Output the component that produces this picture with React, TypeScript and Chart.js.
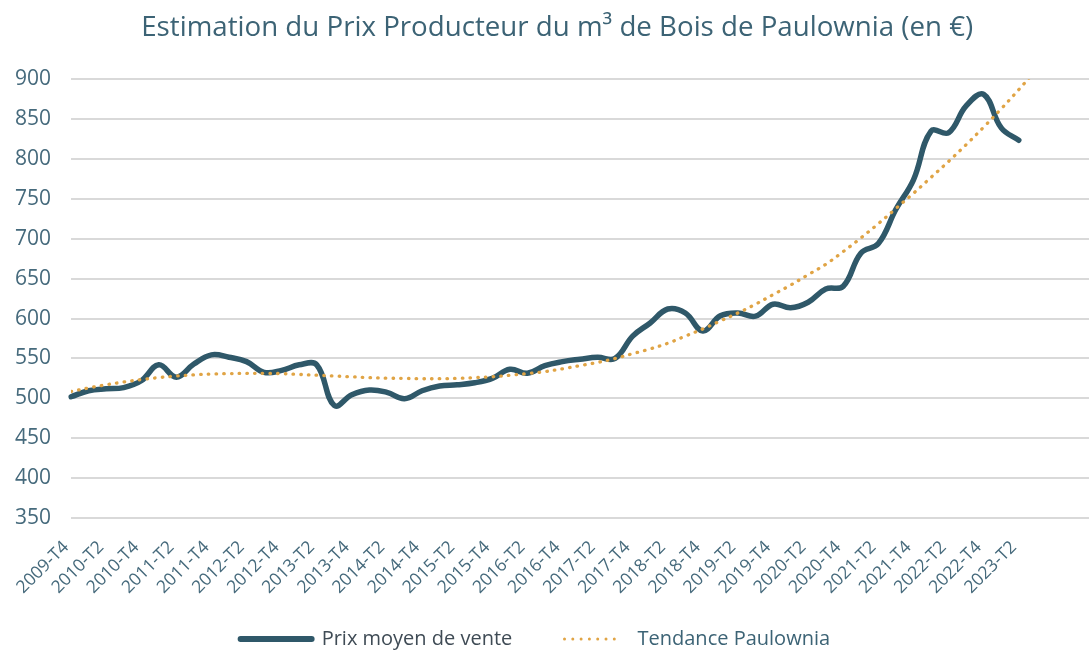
import React, { useEffect, useRef } from 'react';
import { Chart, registerables } from 'chart.js';

Chart.register(...registerables);

const quarters = [
  '2009-T4',
  '2010-T1', '2010-T2', '2010-T3', '2010-T4',
  '2011-T1', '2011-T2', '2011-T3', '2011-T4',
  '2012-T1', '2012-T2', '2012-T3', '2012-T4',
  '2013-T1', '2013-T2', '2013-T3', '2013-T4',
  '2014-T1', '2014-T2', '2014-T3', '2014-T4',
  '2015-T1', '2015-T2', '2015-T3', '2015-T4',
  '2016-T1', '2016-T2', '2016-T3', '2016-T4',
  '2017-T1', '2017-T2', '2017-T3', '2017-T4',
  '2018-T1', '2018-T2', '2018-T3', '2018-T4',
  '2019-T1', '2019-T2', '2019-T3', '2019-T4',
  '2020-T1', '2020-T2', '2020-T3', '2020-T4',
  '2021-T1', '2021-T2', '2021-T3', '2021-T4',
  '2022-T1', '2022-T2', '2022-T3', '2022-T4',
  '2023-T1', '2023-T2',
];

// forecast periods of the trend line (unlabelled on the axis)
const forecastLabels = ['', '', '', ''];

const prixMoyen = [
  502, 509.5, 512, 513.5, 522, 542, 526.5, 543, 554.5, 551.5,
  546, 532.5, 535, 542, 542, 491, 504.5, 510.5, 507.5, 499.5,
  509.5, 515.5, 517, 519.5, 525, 536.5, 531.5, 541, 546, 549,
  551.5, 550, 578, 594.5, 612, 607, 584.5, 603.5, 607, 603,
  618, 613.5, 620.5, 637, 640.5, 682, 694, 737, 774, 835,
  833, 866.5, 881, 839, 823.5,
];

const tendance = [
  508.6, 513, 517, 520.5, 523.5, 526, 528, 529.5, 530.5, 531,
  531.3, 531.3, 531, 530, 529, 528, 527, 526, 525.3, 525,
  524.6, 524.6, 525, 526, 527, 529, 531, 533.5, 537, 541,
  545, 550, 556, 562, 569, 578, 587, 597, 607, 618,
  630, 642, 655, 668, 684, 701, 719, 738, 757, 777,
  797, 818, 840, 863, 887, 912,
];

const yTicks = [350, 400, 450, 500, 550, 600, 650, 700, 750, 800, 850, 900];

const seriesNames = ['Prix moyen de vente', 'Tendance Paulownia'];
const titleText = 'Estimation du Prix Producteur du m³ de Bois de Paulownia (en €)';

const LINE = '#2f5869';
const TREND = '#e0a445';
const TEXT = '#466a7c';
const FONT = "'Open Sans', 'Noto Sans', sans-serif";

export default function App() {
  const ref = useRef<HTMLCanvasElement | null>(null);

  useEffect(() => {
    if (!ref.current) return;
    const labels = [...quarters, ...forecastLabels];
    const chart = new Chart(ref.current, {
      type: 'line',
      data: {
        labels,
        datasets: [
          {
            label: seriesNames[0],
            data: prixMoyen,
            borderColor: LINE,
            backgroundColor: LINE,
            borderWidth: 5.5,
            pointRadius: 0,
            tension: 0.4,
            borderCapStyle: 'round',
            borderJoinStyle: 'round',
            order: 1,
          },
          {
            label: seriesNames[1],
            data: tendance,
            borderColor: TREND,
            backgroundColor: TREND,
            borderWidth: 3.3,
            borderDash: [0.5, 7.2],
            borderCapStyle: 'round',
            pointRadius: 0,
            tension: 0.4,
            clip: 0,
            order: 0,
          },
        ],
      },
      options: {
        animation: false,
        responsive: true,
        maintainAspectRatio: false,
        layout: { padding: { left: -5, right: 0, top: 0, bottom: -8 } },
        plugins: {
          title: {
            display: true,
            text: '\u2003\u200A' + titleText,
            color: '#3c6375',
            font: { family: FONT, size: 27.7, weight: 'normal' },
            padding: { top: 11, bottom: 35 },
          },
          legend: {
            position: 'bottom',
            labels: {
              boxWidth: 71,
              boxHeight: 0,
              padding: 29,
              color: '#3f5260',
              font: { family: FONT, size: 20 },
              generateLabels: (c: any) =>
                c.data.datasets.map((ds: any, i: number) => ({
                  text: i === 0 ? ds.label + '\u2002 ' : ds.label + '\u2002\u2009',
                  fillStyle: 'rgba(0,0,0,0)',
                  strokeStyle: i === 0 ? LINE : TREND,
                  lineWidth: i === 0 ? 6 : 3,
                  lineDash:
                    i === 0
                      ? []
                      : [0, 8.3, 0, 8.3, 0, 8.3, 0, 8.3, 0, 8.3, 0, 8.3, 0, 92.2],
                  lineDashOffset: i === 0 ? 0 : 134,
                  lineCap: 'round',
                  lineJoin: 'round',
                  hidden: false,
                  datasetIndex: i,
                  fontColor: i === 0 ? '#3f4b55' : '#3c6375',
                })),
            },
          },
          tooltip: { enabled: false },
        },
        scales: {
          x: {
            grid: { display: false },
            border: { display: false },
            afterFit: (axis: any) => {
              axis.paddingRight = 0;
              axis.paddingLeft = 0;
              axis.height = 82;
            },
            ticks: {
              autoSkip: false,
              maxRotation: 45,
              minRotation: 45,
              padding: 11,
              labelOffset: -5,
              color: TEXT,
              font: { family: FONT, size: 17.5 },
              callback: (_v: any, idx: number) =>
                idx < quarters.length && idx % 2 === 0 ? quarters[idx] : '',
            },
          },
          y: {
            min: yTicks[0],
            max: yTicks[yTicks.length - 1],
            afterBuildTicks: (axis: any) => {
              axis.ticks = yTicks.map((v) => ({ value: v }));
            },
            grid: { color: '#d9d9d9', lineWidth: 2, drawTicks: false },
            border: { display: false },
            ticks: {
              padding: 20,
              color: TEXT,
              font: { family: FONT, size: 21 },
            },
          },
        },
      },
    });
    return () => chart.destroy();
  }, []);

  return (
    <div style={{ position: 'absolute', left: 0, top: 0, width: 1089, height: 651, background: '#fff' }}>
      <canvas ref={ref} />
    </div>
  );
}
